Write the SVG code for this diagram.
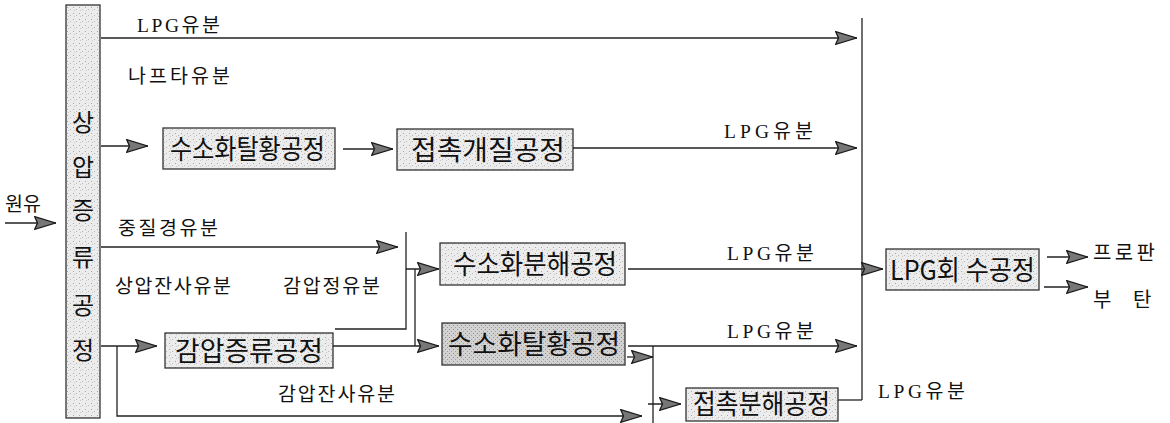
<svg xmlns="http://www.w3.org/2000/svg" width="1170" height="423" viewBox="0 0 1170 423">
<defs>
<pattern id="stip" width="6" height="6" patternUnits="userSpaceOnUse">
<rect width="6" height="6" fill="#ececec"/>
<rect x="1" y="1" width="1" height="1" fill="#a8a8a8"/>
<rect x="4" y="3" width="1" height="1" fill="#b8b8b8"/>
<rect x="2" y="4" width="1" height="1" fill="#c8c8c8"/>
</pattern>
<pattern id="stipd" width="4" height="4" patternUnits="userSpaceOnUse">
<rect width="4" height="4" fill="#d2d2d2"/>
<rect x="1" y="1" width="1" height="1" fill="#909090"/>
<rect x="3" y="3" width="1" height="1" fill="#a0a0a0"/>
</pattern>
<marker id="ah" viewBox="0 0 22 14" refX="22" refY="7" markerWidth="22" markerHeight="14" markerUnits="userSpaceOnUse" orient="auto">
<path d="M0.7,0.7 L21.5,7 L0.7,13.3 L3.5,7 Z" fill="#777" stroke="#1a1a1a" stroke-width="1.3"/>
</marker>
<style>
.box{stroke:#333;stroke-width:1.3}
.lt{fill:url(#stip)}
.dk{fill:url(#stipd)}
.bt{font-family:"Noto Sans CJK KR","Noto Sans",sans-serif;font-size:27px;fill:#111}
.ct{font-family:"Noto Sans CJK KR",sans-serif;font-size:24px;fill:#111;text-anchor:middle}
.lb{font-family:"Liberation Serif","Noto Sans CJK KR",serif;font-size:19.5px;fill:#111}
.ln{fill:none;stroke:#222;stroke-width:1.3}
.ar{marker-end:url(#ah)}
</style>
</defs>

<g id="column">
<rect class="box lt" x="66" y="5" width="34" height="413"/>
<text class="ct" x="83" y="131">상</text>
<text class="ct" x="83" y="176">압</text>
<text class="ct" x="83" y="219">증</text>
<text class="ct" x="83" y="266">류</text>
<text class="ct" x="83" y="314">공</text>
<text class="ct" x="83" y="359">정</text>
</g>

<g id="n-hds1">
<rect class="box lt" x="163" y="128" width="172" height="41"/>
<text class="bt" x="170" y="159" textLength="155" lengthAdjust="spacingAndGlyphs">수소화탈황공정</text>
</g>
<g id="n-reform">
<rect class="box lt" x="397" y="129" width="176" height="41"/>
<text class="bt" x="411" y="160" textLength="154" lengthAdjust="spacingAndGlyphs">접촉개질공정</text>
</g>
<g id="n-vdu">
<rect class="box lt" x="165" y="333" width="168" height="35"/>
<text class="bt" x="175" y="361" textLength="148" lengthAdjust="spacingAndGlyphs">감압증류공정</text>
</g>
<g id="n-hcr">
<rect class="box lt" x="440" y="243" width="185" height="42"/>
<text class="bt" x="453" y="274" textLength="164" lengthAdjust="spacingAndGlyphs">수소화분해공정</text>
</g>
<g id="n-hds2">
<rect class="box dk" x="442" y="323" width="183" height="42"/>
<text class="bt" x="448" y="354" textLength="172" lengthAdjust="spacingAndGlyphs">수소화탈황공정</text>
</g>
<g id="n-fcc">
<rect class="box lt" x="686" y="388" width="152" height="33"/>
<text class="bt" x="693" y="414" textLength="137" lengthAdjust="spacingAndGlyphs">접촉분해공정</text>
</g>
<g id="n-lpg">
<rect class="box lt" x="886" y="249" width="153" height="41"/>
<text class="bt" x="890" y="280" textLength="145" lengthAdjust="spacingAndGlyphs">LPG회 수공정</text>
</g>

<g id="connectors">
<line class="ln ar" x1="5" y1="223" x2="56" y2="223"/>
<line class="ln ar" x1="101" y1="38" x2="857" y2="38"/>
<line class="ln" x1="862" y1="18" x2="862" y2="400"/>
<line class="ln ar" x1="101" y1="146" x2="148" y2="146"/>
<line class="ln ar" x1="343" y1="149" x2="393" y2="149"/>
<line class="ln ar" x1="573" y1="148" x2="857" y2="148"/>
<line class="ln ar" x1="101" y1="247" x2="398" y2="247"/>
<polyline class="ln" points="335,329 406,329 406,232"/>
<line class="ln ar" x1="406" y1="269" x2="439" y2="269"/>
<line class="ln" x1="415" y1="269" x2="415" y2="346"/>
<line class="ln ar" x1="333" y1="346" x2="439" y2="346"/>
<line class="ln ar" x1="101" y1="346" x2="157" y2="346"/>
<polyline class="ln ar" points="117,346 117,416 642,416"/>
<line class="ln ar" x1="628" y1="269" x2="883" y2="269"/>
<line class="ln ar" x1="628" y1="346" x2="857" y2="346"/>
<line class="ln ar" x1="627" y1="357" x2="653" y2="357"/>
<line class="ln" x1="653" y1="346" x2="653" y2="423"/>
<line class="ln ar" x1="648" y1="404" x2="681" y2="404"/>
<line class="ln" x1="838" y1="400" x2="862" y2="400"/>
<line class="ln ar" x1="1047" y1="257" x2="1088" y2="257"/>
<line class="ln ar" x1="1044" y1="287" x2="1088" y2="287"/>
</g>

<g id="labels">
<text class="lb" x="137" y="32" textLength="83">LPG유분</text>
<text class="lb" x="128" y="83" textLength="102">나프타유분</text>
<text class="lb" x="724" y="138" textLength="89">LPG유분</text>
<text class="lb" x="5" y="211" textLength="36">원유</text>
<text class="lb" x="118" y="235" textLength="100">중질경유분</text>
<text class="lb" x="115" y="293" textLength="116">상압잔사유분</text>
<text class="lb" x="283" y="293" textLength="97">감압정유분</text>
<text class="lb" x="278" y="401" textLength="117">감압잔사유분</text>
<text class="lb" x="727" y="260" textLength="87">LPG유분</text>
<text class="lb" x="727" y="338" textLength="87">LPG유분</text>
<text class="lb" x="878" y="398" textLength="87">LPG유분</text>
<text class="lb" x="1093" y="260" textLength="62" style="font-size:20px">프로판</text>
<text class="lb" x="1093" y="307" style="font-size:20px">부</text>
<text class="lb" x="1133" y="307" style="font-size:20px">탄</text>
</g>
</svg>
